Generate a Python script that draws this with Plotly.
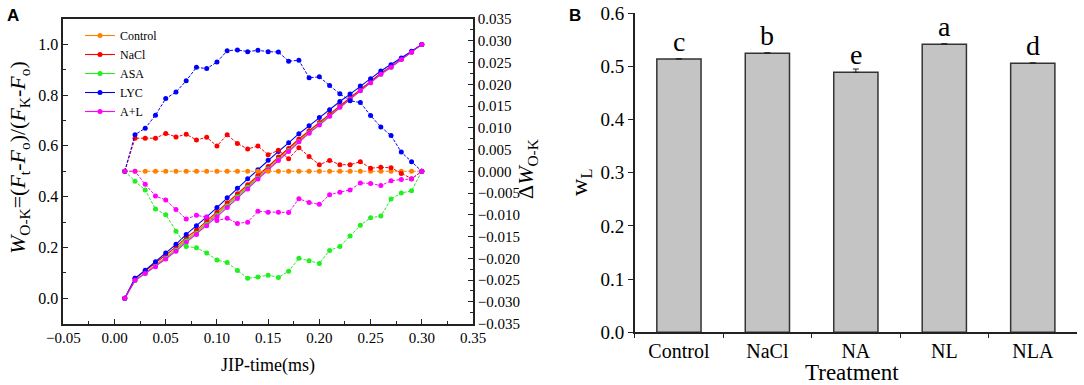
import plotly.graph_objects as go

# ---------------- data: panel A ----------------
time_ms = [0.01, 0.02, 0.03, 0.04, 0.05, 0.06, 0.07, 0.08, 0.09, 0.10,
           0.11, 0.12, 0.13, 0.14, 0.15, 0.16, 0.17, 0.18, 0.19, 0.20,
           0.21, 0.22, 0.23, 0.24, 0.25, 0.26, 0.27, 0.28, 0.29, 0.30]

series_names = ["Control", "NaCl", "ASA", "LYC", "A+L"]
series_colors = ["#FF8000", "#FF0000", "#22EE22", "#0000FF", "#FF00FF"]

w_control = [0.000, 0.070, 0.100, 0.130, 0.161, 0.194, 0.230, 0.261, 0.296, 0.332,
             0.368, 0.405, 0.442, 0.478, 0.515, 0.551, 0.587, 0.622, 0.657, 0.690,
             0.722, 0.757, 0.788, 0.820, 0.852, 0.885, 0.912, 0.942, 0.971, 1.000]
w_nacl = [0.000, 0.078, 0.108, 0.138, 0.170, 0.202, 0.239, 0.268, 0.304, 0.338,
          0.376, 0.411, 0.447, 0.484, 0.519, 0.556, 0.590, 0.627, 0.660, 0.692,
          0.725, 0.759, 0.790, 0.822, 0.853, 0.886, 0.913, 0.942, 0.969, 1.000]
w_asa = [0.000, 0.069, 0.098, 0.127, 0.157, 0.189, 0.225, 0.256, 0.291, 0.327,
         0.363, 0.400, 0.437, 0.473, 0.510, 0.546, 0.582, 0.617, 0.652, 0.686,
         0.718, 0.753, 0.785, 0.817, 0.849, 0.882, 0.910, 0.940, 0.970, 1.000]
w_lyc = [0.000, 0.078, 0.110, 0.143, 0.178, 0.212, 0.251, 0.285, 0.320, 0.357,
         0.396, 0.433, 0.470, 0.506, 0.543, 0.578, 0.612, 0.648, 0.679, 0.712,
         0.742, 0.775, 0.804, 0.836, 0.865, 0.895, 0.920, 0.946, 0.973, 1.000]
w_al = [0.000, 0.070, 0.097, 0.124, 0.154, 0.185, 0.219, 0.251, 0.285, 0.321,
        0.357, 0.393, 0.430, 0.469, 0.506, 0.542, 0.578, 0.616, 0.650, 0.682,
        0.717, 0.752, 0.784, 0.817, 0.849, 0.882, 0.910, 0.940, 0.969, 1.000]

dw_control = [0.0, 0.0, 0.0, 0.0, 0.0, 0.0, 0.0, 0.0, 0.0, 0.0,
              0.0, 0.0, 0.0, 0.0, 0.0, 0.0, 0.0, 0.0, 0.0, 0.0,
              0.0, 0.0, 0.0, 0.0, 0.0, 0.0, 0.0, 0.0, 0.0, 0.0]
dw_nacl = [0.0, 0.0076, 0.0076, 0.0076, 0.0087, 0.0079, 0.0085, 0.0072, 0.0078, 0.0058,
           0.0084, 0.0064, 0.0051, 0.0058, 0.0038, 0.0048, 0.0029, 0.0054, 0.0034, 0.0015,
           0.0025, 0.0015, 0.0015, 0.0022, 0.0007, 0.0009, 0.0008, -0.0005, -0.0017, 0.0]
dw_asa = [0.0, -0.0023, -0.0043, -0.0087, -0.0100, -0.0138, -0.0173, -0.0176, -0.0188, -0.0204,
          -0.0210, -0.0228, -0.0246, -0.0243, -0.0239, -0.0244, -0.0230, -0.0200, -0.0206, -0.0212,
          -0.0182, -0.0173, -0.0149, -0.0124, -0.0107, -0.0103, -0.0064, -0.0050, -0.0045, 0.0]
dw_lyc = [0.0, 0.0084, 0.0099, 0.0129, 0.0167, 0.0182, 0.0208, 0.0239, 0.0236, 0.0251,
          0.0277, 0.0279, 0.0275, 0.0278, 0.0275, 0.0274, 0.0253, 0.0255, 0.0215, 0.0217,
          0.0197, 0.0178, 0.0162, 0.0158, 0.0128, 0.0102, 0.0082, 0.0044, 0.0022, 0.0]
dw_al = [0.0, 0.0, -0.0030, -0.0057, -0.0066, -0.0088, -0.0110, -0.0101, -0.0106, -0.0113,
         -0.0108, -0.0120, -0.0117, -0.0092, -0.0094, -0.0094, -0.0095, -0.0063, -0.0072, -0.0076,
         -0.0054, -0.0048, -0.0043, -0.0027, -0.0028, -0.0033, -0.0022, -0.0019, -0.0018, 0.0]

x_ticks_a = [-0.05, 0.00, 0.05, 0.10, 0.15, 0.20, 0.25, 0.30, 0.35]
y_ticks_a = [0.0, 0.2, 0.4, 0.6, 0.8, 1.0]
y2_ticks_a = [-0.035, -0.030, -0.025, -0.020, -0.015, -0.010, -0.005, 0.000,
              0.005, 0.010, 0.015, 0.020, 0.025, 0.030, 0.035]

# ---------------- data: panel B ----------------
treatments = ["Control", "NaCl", "NA", "NL", "NLA"]
wl_values = [0.514, 0.525, 0.489, 0.542, 0.506]
wl_errors = [0.0008, 0.0008, 0.0062, 0.0008, 0.0008]
wl_letters = ["c", "b", "e", "a", "d"]
y_ticks_b = [0.0, 0.1, 0.2, 0.3, 0.4, 0.5, 0.6]

w_series = [w_control, w_nacl, w_asa, w_lyc, w_al]
dw_series = [dw_control, dw_nacl, dw_asa, dw_lyc, dw_al]

SERIF = "Liberation Serif, Times New Roman, serif"
SANS = "Liberation Sans, Arial, sans-serif"
fig = go.Figure()

for name, col, w in zip(series_names, series_colors, w_series):
    fig.add_trace(go.Scatter(
        x=time_ms, y=w, name=name, mode="lines+markers",
        line=dict(color=col, width=1.1),
        marker=dict(color=col, size=5),
        legendgroup=name, showlegend=True, xaxis="x", yaxis="y"))

for name, col, dw in zip(series_names, series_colors, dw_series):
    fig.add_trace(go.Scatter(
        x=time_ms, y=dw, name=name, mode="lines+markers",
        line=dict(color=col, width=1, dash="3px,1.5px"),
        marker=dict(color=col, size=5),
        legendgroup=name, showlegend=False, xaxis="x", yaxis="y2"))

fig.add_trace(go.Bar(
    x=treatments, y=wl_values, xaxis="x2", yaxis="y3", showlegend=False,
    width=0.5,
    marker=dict(color="#C4C4C4", line=dict(color="#333333", width=1.5)),
    error_y=dict(type="data", symmetric=False, array=wl_errors,
                 arrayminus=[0 for _ in wl_errors],
                 color="#222222", thickness=1, width=3)))

annotations = []
for t, v, lab in zip(treatments, wl_values, wl_letters):
    annotations.append(dict(x=t, y=v, xref="x2", yref="y3", text=lab,
                            showarrow=False, xanchor="center", yanchor="bottom",
                            yshift=0, font=dict(family=SERIF, size=28, color="black")))

W = 1084.0
H = 385.0


def px_x(p):
    return p / W


def px_y(p):
    return 1 - p / H


def paper_text(x, y, text, size, family=SERIF, angle=0):
    return dict(x=px_x(x), y=px_y(y), xref="paper", yref="paper", text=text,
                textangle=angle, showarrow=False, xanchor="center",
                yanchor="middle", font=dict(family=family, size=size, color="black"))


annotations += [
    paper_text(13, 15, "<b>A</b>", 17, SANS),
    paper_text(575, 15, "<b>B</b>", 17, SANS),
    paper_text(19, 158,
               "<i>W</i><sub>O-K</sub>=(<i>F</i><sub>t</sub>-<i>F</i><sub>o</sub>)/(<i>F</i><sub>K</sub>-<i>F</i><sub>o</sub>)",
               22, angle=-90),
    paper_text(527, 169, "\u0394<i>W</i><sub>O-K</sub>", 22, angle=-90),
    paper_text(268, 365, "JIP-time(ms)", 18),
    paper_text(852, 372, "Treatment", 23),
    paper_text(581, 182, "w<sub>L</sub>", 24, angle=-90),
]

axis_line = dict(showline=True, linecolor="#222222", linewidth=1.5,
                 showgrid=False, zeroline=False, automargin=False)

fig.update_layout(
    template="none",
    width=1084, height=385,
    margin=dict(l=0, r=0, t=0, b=0, autoexpand=False),
    paper_bgcolor="white", plot_bgcolor="white",
    font=dict(family=SERIF, color="black"),
    showlegend=True,
    legend=dict(x=px_x(80), y=px_y(21), xanchor="left", yanchor="top",
                bgcolor="rgba(0,0,0,0)", font=dict(family=SERIF, size=12),
                tracegroupgap=0, itemwidth=30),
    xaxis=dict(domain=[px_x(63.3), px_x(473)], range=[-0.05, 0.35],
               anchor="y", mirror=True, tickmode="array", tickvals=x_ticks_a,
               tickformat=".2f", ticks="inside", ticklen=5, tickwidth=1.2,
               tickcolor="#222222",
               minor=dict(dtick=0.025, tick0=0, ticks="inside", ticklen=3,
                          tickcolor="#222222", showgrid=False),
               tickfont=dict(family=SERIF, size=15, color="black"), **axis_line),
    yaxis=dict(domain=[px_y(323.5), px_y(19)], range=[-0.1, 1.1],
               anchor="x", tickmode="array", tickvals=y_ticks_a,
               tickformat=".1f", ticks="inside", ticklen=5, tickwidth=1.2,
               tickcolor="#222222",
               minor=dict(dtick=0.1, tick0=0, ticks="inside", ticklen=3,
                          tickcolor="#222222", showgrid=False),
               tickfont=dict(family=SERIF, size=16, color="black"), **axis_line),
    yaxis2=dict(overlaying="y", side="right", anchor="x",
                range=[-0.035, 0.035], tickmode="array", tickvals=y2_ticks_a,
                tickformat=".3f", ticks="inside", ticklen=5, tickwidth=1.2,
                tickcolor="#222222",
                minor=dict(dtick=0.0025, tick0=0, ticks="inside", ticklen=3,
                           tickcolor="#222222", showgrid=False),
                tickfont=dict(family=SERIF, size=15, color="black"), **axis_line),
    xaxis2=dict(domain=[px_x(634.7), px_x(1077)], range=[-0.5, 4.5],
                anchor="y3", type="category", tickson="boundaries",
                ticks="outside", ticklen=4, tickwidth=1.2, tickcolor="#222222",
                tickfont=dict(family=SERIF, size=20, color="black"), **axis_line),
    yaxis3=dict(domain=[px_y(332.3), px_y(13.3)], range=[0, 0.6],
                anchor="x2", tickmode="array", tickvals=y_ticks_b,
                tickformat=".1f", ticks="outside", ticklen=5, tickwidth=1.2,
                tickcolor="#222222",
                tickfont=dict(family=SERIF, size=19, color="black"), **axis_line),
    annotations=annotations,
)

fig.write_html(
    "out.html",
    config={"displayModeBar": False},
    post_script="document.documentElement.style.margin='0';"
                "document.body.style.margin='0';"
                "document.body.style.padding='0';",
)
